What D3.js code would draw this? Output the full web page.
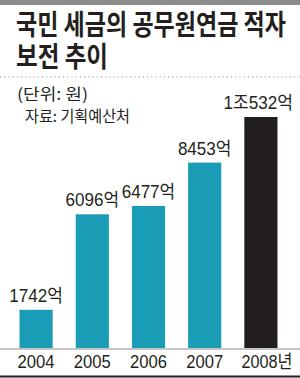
<!DOCTYPE html>
<html>
<head>
<meta charset="utf-8">
<script src="https://cdn.jsdelivr.net/npm/d3@7"></script>
<style>
  body { margin: 0; background: #fff; }
  svg { display: block; }
  .kr { font-family: "Noto Sans CJK KR", sans-serif; fill: #231f20; }
  .num { font-family: "Liberation Sans", "Noto Sans CJK KR", sans-serif; fill: #231f20; }
</style>
</head>
<body>
<div id="chart"></div>
<script>
// data
let years = ["2004", "2005", "2006", "2007", "2008"];
let values = [1742, 6096, 6477, 8453, 10532];
let labels = ["1742억", "6096억", "6477억", "8453억", "1조532억"];
let barColors = ["#1a9cb6", "#1a9cb6", "#1a9cb6", "#1a9cb6", "#231f20"];

let W = 300, H = 378;
let svg = d3.select("#chart").append("svg")
    .attr("width", W).attr("height", H);

// largeur condensée : chiffres étroits, hangul plus large
function condensed(s, dw, hw) {
    let w = 0;
    for (let c of s) w += /[0-9]/.test(c) ? dw : hw;
    return w;
}

// bande du haut
svg.append("rect").attr("x", 0).attr("y", 0).attr("width", W).attr("height", 5).attr("fill", "#8c8c8c");

// titre (police étirée en hauteur)
svg.append("text").attr("class", "kr")
    .attr("transform", "translate(16,35) scale(1,1.3)")
    .style("font-size", "21.5px").style("font-weight", "bold")
    .attr("textLength", 270).attr("lengthAdjust", "spacingAndGlyphs")
    .text("국민 세금의 공무원연금 적자");
svg.append("text").attr("class", "kr")
    .attr("transform", "translate(16,67) scale(1,1.3)")
    .style("font-size", "21.5px").style("font-weight", "bold")
    .attr("textLength", 92).attr("lengthAdjust", "spacingAndGlyphs")
    .text("보전 추이");

// ligne pointillée
svg.append("line").attr("x1", 0).attr("x2", W).attr("y1", 77).attr("y2", 77)
    .attr("stroke", "#999").attr("stroke-width", 1.2).attr("stroke-dasharray", "1.2,3");

svg.append("text").attr("class", "kr").attr("x", 17).attr("y", 100)
    .style("font-size", "16px")
    .attr("textLength", 71).attr("lengthAdjust", "spacingAndGlyphs")
    .text("(단위: 원)");
svg.append("text").attr("class", "kr").attr("x", 25).attr("y", 122)
    .style("font-size", "15.5px")
    .attr("textLength", 105).attr("lengthAdjust", "spacingAndGlyphs")
    .text("자료: 기획예산처");

// scales
let x = d3.scaleBand().domain(years).range([8, 289]).paddingInner(0.41).paddingOuter(0.205);
let y = d3.scaleLinear().domain([0, 10532]).range([348, 117]);

svg.selectAll(".bar")
    .data(years)
    .enter().append("rect")
    .attr("class", "bar")
    .attr("x", function(d) { return x(d); })
    .attr("y", function(d, i) { return y(values[i]); })
    .attr("width", x.bandwidth())
    .attr("height", function(d, i) { return y(0) - y(values[i]); })
    .attr("fill", function(d, i) { return barColors[i]; });

svg.selectAll(".val")
    .data(years)
    .enter().append("text")
    .attr("class", "num")
    .attr("x", function(d, i) { return i == 4 ? 293 : x(d) + x.bandwidth() / 2; })
    .attr("y", function(d, i) { return y(values[i]) - 8; })
    .style("text-anchor", function(d, i) { return i == 4 ? "end" : "middle"; })
    .style("font-size", "18.5px")
    .attr("textLength", function(d, i) { return condensed(labels[i], 9.4, 16); })
    .attr("lengthAdjust", "spacingAndGlyphs")
    .text(function(d, i) { return labels[i]; });

// axe x
let axis = svg.append("g")
    .attr("transform", "translate(0,348)")
    .call(d3.axisBottom(x).tickSize(0).tickPadding(7)
        .tickFormat(function(d) { return d == "2008" ? "2008년" : d; }));
axis.select(".domain").remove();
axis.selectAll("text")
    .attr("class", "num")
    .style("font-size", "18px")
    .attr("textLength", function(d) { return condensed(d == "2008" ? "2008년" : d, 9.25, 14); })
    .attr("lengthAdjust", "spacingAndGlyphs")
    .attr("dx", function(d) { return d == "2008" ? 6 : 0; });

svg.append("line").attr("x1", 0).attr("x2", W).attr("y1", 349).attr("y2", 349)
    .attr("stroke", "#8c8c8c").attr("stroke-width", 1);
svg.append("line").attr("x1", 0).attr("x2", W).attr("y1", 376.5).attr("y2", 376.5)
    .attr("stroke", "#231f20").attr("stroke-width", 2);
</script>
</body>
</html>
